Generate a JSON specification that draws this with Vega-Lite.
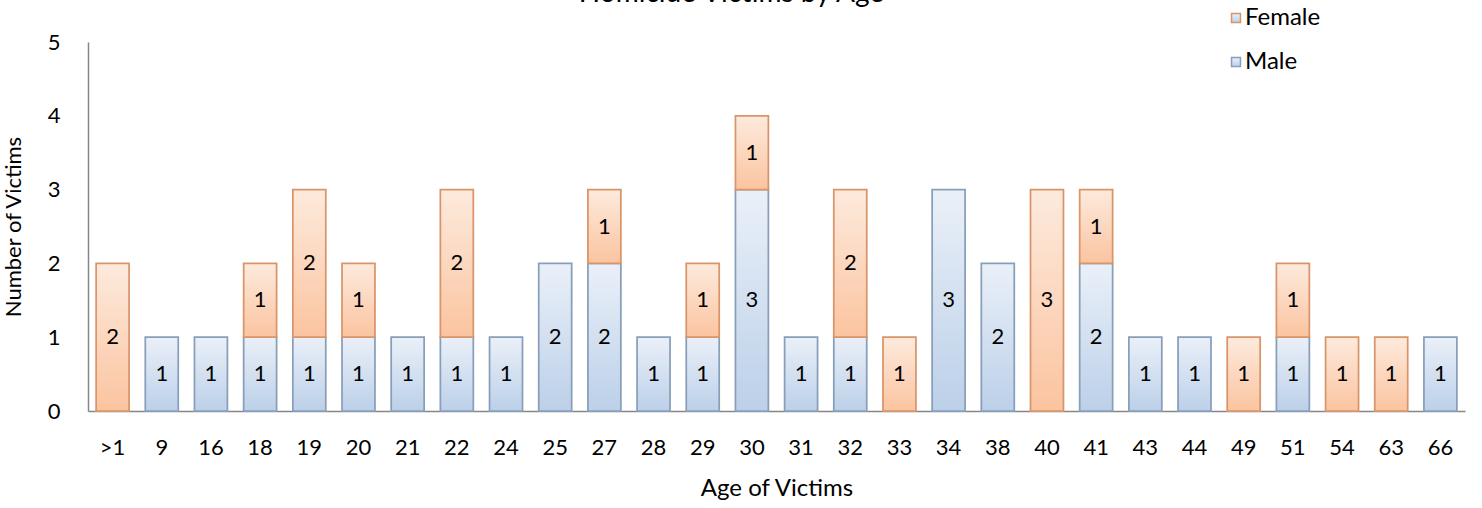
{
  "$schema": "https://vega.github.io/schema/vega-lite/v6.json",
  "width": 1377,
  "height": 369,
  "autosize": "none",
  "padding": {"left": 88, "top": 42, "right": 17, "bottom": 97},
  "background": "white",
  "config": {"font": "Lato", "view": {"stroke": null}},
  "title": {"text": "Homicide Victims by Age", "fontSize": 28, "fontWeight": "normal", "color": "#000000", "anchor": "middle", "frame": "group", "dx": -45, "dy": 28, "baseline": "alphabetic", "offset": 4},
  "data": {"values": [
    {"age": ">1", "sex": "Female", "count": 2},
    {"age": "9", "sex": "Male", "count": 1},
    {"age": "16", "sex": "Male", "count": 1},
    {"age": "18", "sex": "Male", "count": 1},
    {"age": "18", "sex": "Female", "count": 1},
    {"age": "19", "sex": "Male", "count": 1},
    {"age": "19", "sex": "Female", "count": 2},
    {"age": "20", "sex": "Male", "count": 1},
    {"age": "20", "sex": "Female", "count": 1},
    {"age": "21", "sex": "Male", "count": 1},
    {"age": "22", "sex": "Male", "count": 1},
    {"age": "22", "sex": "Female", "count": 2},
    {"age": "24", "sex": "Male", "count": 1},
    {"age": "25", "sex": "Male", "count": 2},
    {"age": "27", "sex": "Male", "count": 2},
    {"age": "27", "sex": "Female", "count": 1},
    {"age": "28", "sex": "Male", "count": 1},
    {"age": "29", "sex": "Male", "count": 1},
    {"age": "29", "sex": "Female", "count": 1},
    {"age": "30", "sex": "Male", "count": 3},
    {"age": "30", "sex": "Female", "count": 1},
    {"age": "31", "sex": "Male", "count": 1},
    {"age": "32", "sex": "Male", "count": 1},
    {"age": "32", "sex": "Female", "count": 2},
    {"age": "33", "sex": "Female", "count": 1},
    {"age": "34", "sex": "Male", "count": 3},
    {"age": "38", "sex": "Male", "count": 2},
    {"age": "40", "sex": "Female", "count": 3},
    {"age": "41", "sex": "Male", "count": 2},
    {"age": "41", "sex": "Female", "count": 1},
    {"age": "43", "sex": "Male", "count": 1},
    {"age": "44", "sex": "Male", "count": 1},
    {"age": "49", "sex": "Female", "count": 1},
    {"age": "51", "sex": "Male", "count": 1},
    {"age": "51", "sex": "Female", "count": 1},
    {"age": "54", "sex": "Female", "count": 1},
    {"age": "63", "sex": "Female", "count": 1},
    {"age": "66", "sex": "Male", "count": 1}
  ]},
  "transform": [
    {"stack": "count", "groupby": ["age"], "sort": [{"field": "sex", "order": "descending"}], "as": ["y0", "y1"]},
    {"calculate": "(datum.y0 + datum.y1) / 2", "as": "ymid"}
  ],
  "encoding": {
    "x": {
      "field": "age", "type": "nominal",
      "sort": [">1","9","16","18","19","20","21","22","24","25","27","28","29","30","31","32","33","34","38","40","41","43","44","49","51","54","63","66"],
      "scale": {"paddingInner": 0.33, "paddingOuter": 0.165},
      "axis": {"title": "Age of Victims", "labelAngle": 0, "ticks": false, "domainColor": "#868686", "domainWidth": 1.5, "labelFontSize": 22, "labelColor": "#000000", "labelPadding": 26, "titleFontSize": 24, "titleFontWeight": "normal", "titleColor": "#000000", "titlePadding": 18}
    }
  },
  "layer": [
    {
      "transform": [{"filter": "datum.sex === 'Male'"}],
      "mark": {"type": "bar", "strokeWidth": 1.75,
        "fill": {"gradient": "linear", "x1": 0, "y1": 0, "x2": 0, "y2": 1, "stops": [{"offset": 0, "color": "#eaf0f8"}, {"offset": 1, "color": "#bcd0e9"}]}},
      "encoding": {
        "y": {"field": "y0", "type": "quantitative", "scale": {"domain": [0, 5]},
          "axis": {"title": "Number of Victims", "values": [0,1,2,3,4,5], "format": "d", "labelOverlap": false, "labelFlush": false, "labelBound": false, "grid": false, "ticks": false, "domainColor": "#868686", "domainWidth": 1.5, "labelFontSize": 22, "labelColor": "#000000", "labelPadding": 28, "titleFontSize": 22, "titleFontWeight": "normal", "titleColor": "#000000", "titlePadding": 22}},
        "y2": {"field": "y1"},
        "stroke": {"field": "sex", "type": "nominal", "scale": {"domain": ["Female", "Male"], "range": ["#d9956a", "#889fba"]},
          "legend": {"title": null, "orient": "none", "legendX": 1136, "legendY": -36, "labelFontSize": 24, "labelColor": "#000000", "symbolType": "square", "symbolSize": 80, "symbolStrokeWidth": 1.5, "rowPadding": 20, "labelOffset": -3,
            "encode": {"symbols": {"update": {"fill": {"signal": "datum.value === 'Female' ? '#fcd3b6' : '#d4e1f1'"}}}}}}
      }
    },
    {
      "transform": [{"filter": "datum.sex === 'Female'"}],
      "mark": {"type": "bar", "strokeWidth": 1.75,
        "fill": {"gradient": "linear", "x1": 0, "y1": 0, "x2": 0, "y2": 1, "stops": [{"offset": 0, "color": "#fdeadd"}, {"offset": 1, "color": "#fbc4a0"}]}},
      "encoding": {
        "y": {"field": "y0", "type": "quantitative"},
        "y2": {"field": "y1"},
        "stroke": {"field": "sex", "type": "nominal"}
      }
    },
    {
      "mark": {"type": "text", "fontSize": 22, "color": "#000000", "baseline": "middle"},
      "encoding": {
        "y": {"field": "ymid", "type": "quantitative"},
        "text": {"field": "count", "type": "quantitative"}
      }
    }
  ]
}
